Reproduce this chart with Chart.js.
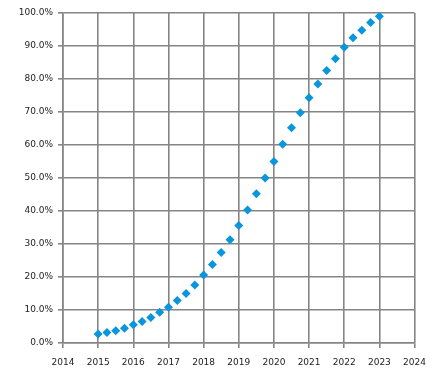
<!DOCTYPE html>
<html>
<head>
<meta charset="utf-8">
<script src="https://cdn.jsdelivr.net/npm/chart.js@4/dist/chart.umd.min.js"></script>
<style>
  html, body { margin: 0; padding: 0; background: #fff; }
  #wrap { width: 435px; height: 369px; }
</style>
</head>
<body>
<div id="wrap"><canvas id="adoption"></canvas></div>
<script>
// Quarterly sample points (decimal year) and share reached
const quarters = [
  2015, 2015.25, 2015.5, 2015.75,
  2016, 2016.25, 2016.5, 2016.75,
  2017, 2017.25, 2017.5, 2017.75,
  2018, 2018.25, 2018.5, 2018.75,
  2019, 2019.25, 2019.5, 2019.75,
  2020, 2020.25, 2020.5, 2020.75,
  2021, 2021.25, 2021.5, 2021.75,
  2022, 2022.25, 2022.5, 2022.75,
  2023
];
const share = [
  0.027, 0.032, 0.037, 0.045,
  0.055, 0.065, 0.077, 0.093,
  0.108, 0.129, 0.150, 0.176,
  0.206, 0.238, 0.274, 0.313,
  0.356, 0.403, 0.452, 0.500,
  0.550, 0.602, 0.652, 0.698,
  0.743, 0.785, 0.826, 0.861,
  0.896, 0.925, 0.948, 0.971,
  0.990
];

const yearMin = 2014, yearMax = 2024;

const points = quarters.map((x, i) => ({ x: x, y: share[i] }));

const gridColor = "#858585";
const tickFont = { family: "DejaVu Sans", size: 9 };

new Chart(document.getElementById("adoption"), {
  type: "scatter",
  data: {
    datasets: [{
      data: points,
      pointStyle: "rectRot",
      pointRadius: 4.5,
      pointHoverRadius: 4.5,
      backgroundColor: "#0a96dc",
      borderColor: "#0a96dc",
      borderWidth: 0
    }]
  },
  options: {
    responsive: true,
    maintainAspectRatio: false,
    animation: false,
    events: [],
    layout: { padding: { top: 13, right: 18, left: 0, bottom: 0 } },
    plugins: {
      legend: { display: false },
      tooltip: { enabled: false }
    },
    scales: {
      x: {
        type: "linear",
        min: yearMin,
        max: yearMax,
        afterFit: s => { s.height = 26; },
        ticks: {
          stepSize: 1,
          color: "#222",
          font: tickFont,
          padding: 9,
          maxRotation: 0,
          callback: v => String(v)
        },
        grid: { color: gridColor, lineWidth: 1.6, tickLength: 5, tickColor: gridColor },
        border: { color: gridColor, width: 1.6 }
      },
      y: {
        min: 0,
        max: 1,
        afterFit: s => { s.width = 63; },
        ticks: {
          stepSize: 0.1,
          color: "#222",
          font: tickFont,
          padding: 5,
          callback: v => (v * 100).toFixed(1) + "%"
        },
        grid: { color: gridColor, lineWidth: 1.6, tickLength: 5, tickColor: gridColor },
        border: { color: gridColor, width: 1.6 }
      }
    }
  }
});
</script>
</body>
</html>
